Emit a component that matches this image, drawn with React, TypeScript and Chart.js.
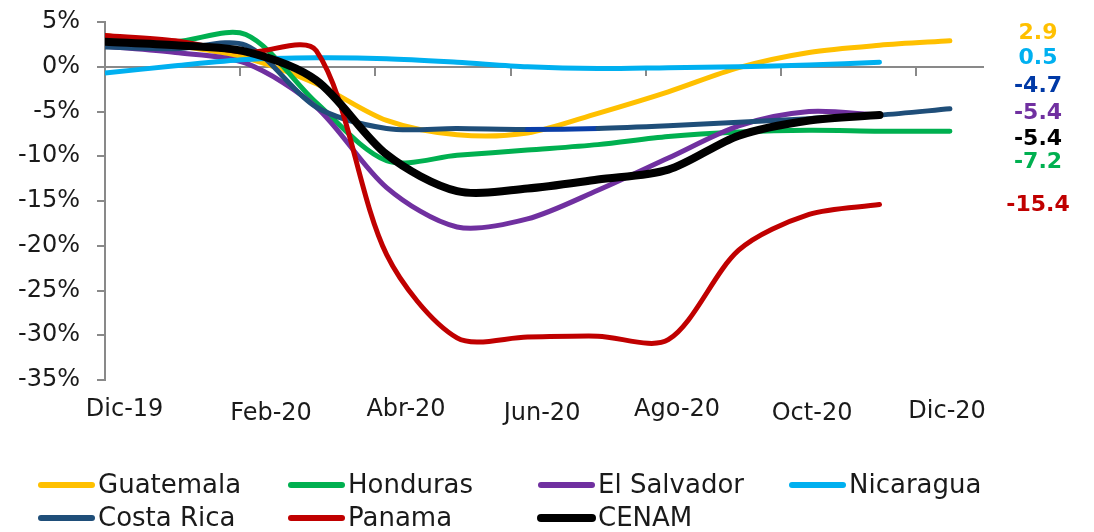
import React, { useEffect, useRef } from 'react';
import { Chart, registerables } from 'chart.js';

Chart.register(...registerables);

// ---- data ----
const xLabels = ['Dic-19', 'Feb-20', 'Abr-20', 'Jun-20', 'Ago-20', 'Oct-20', 'Dic-20'];
const xTickMonths = [0, 1.918, 3.835, 5.767, 7.685, 9.602, 11.52];
const xMaxMonths = 12.47;

const guatemala = [3.5, 2.4, 1.0, -1.9, -6.0, -7.6, -7.4, -5.2, -2.8, -0.1, 1.6, 2.4, 2.9];
const honduras = [3.0, 2.8, 3.6, -4.0, -10.5, -9.9, -9.3, -8.7, -7.8, -7.3, -7.1, -7.2, -7.2];
const elSalvador = [2.3, 1.6, 0.4, -4.5, -13.5, -17.9, -17.0, -13.8, -10.2, -6.6, -5.0, -5.4];
const nicaragua = [-0.7, 0.1, 0.8, 1.0, 0.9, 0.5, 0.0, -0.2, -0.1, 0.0, 0.2, 0.5];
const costaRica = [2.2, 2.0, 2.4, -4.5, -6.9, -6.9, -7.0, -6.9, -6.6, -6.2, -5.8, -5.4, -4.7];
const panama = [3.5, 2.9, 1.6, 1.8, -21.0, -30.3, -30.2, -30.1, -30.5, -20.5, -16.5, -15.4];
const cenam = [2.8, 2.4, 1.7, -1.5, -9.8, -13.9, -13.6, -12.6, -11.5, -7.7, -6.0, -5.4];

const seriesNames = ['Guatemala', 'Honduras', 'El Salvador', 'Nicaragua', 'Costa Rica', 'Panama', 'CENAM'];
const seriesValues = [guatemala, honduras, elSalvador, nicaragua, costaRica, panama, cenam];
const seriesColors = ['#FFC000', '#00B050', '#7030A0', '#00B0F0', '#1F4E79', '#C00000', '#000000'];

const endLabels = ['2.9', '0.5', '-4.7', '-5.4', '-5.4', '-7.2', '-15.4'];
const endLabelColors = ['#FFC000', '#00B0F0', '#0039A6', '#7030A0', '#000000', '#00B050', '#C00000'];

// ---- layout / style ----
const FONT = '"DejaVu Sans", sans-serif';
const TEXT = '#1a1a1a';
const AXIS = '#898989';
const endLabelY = [33, 58, 86, 113, 139, 162, 205];
const legendCols = [38, 288, 538, 789];
const legendRows = [485, 518];

const overlayPlugin = {
  id: 'overlay',
  afterDraw(chart: any) {
    const ctx = chart.ctx;
    const area = chart.chartArea;
    ctx.save();
    // end value labels
    ctx.font = `bold 22px ${FONT}`;
    ctx.textAlign = 'center';
    ctx.textBaseline = 'middle';
    endLabels.forEach((t, i) => {
      ctx.fillStyle = endLabelColors[i];
      ctx.fillText(t, area.right + 55, endLabelY[i]);
    });
    // legend
    ctx.font = `26px ${FONT}`;
    ctx.textAlign = 'left';
    seriesNames.forEach((name, i) => {
      const row = i < 4 ? 0 : 1;
      const col = i < 4 ? i : i - 4;
      const x = legendCols[col];
      const y = legendRows[row];
      ctx.strokeStyle = seriesColors[i];
      ctx.lineWidth = name === 'CENAM' ? 8 : 6;
      ctx.lineCap = 'round';
      ctx.beginPath();
      ctx.moveTo(x + 3, y);
      ctx.lineTo(x + 54, y);
      ctx.stroke();
      ctx.fillStyle = TEXT;
      ctx.fillText(name, x + 60, y + 1);
    });
    ctx.restore();
  },
};

const setTicks = (scale: any) => {
  scale.ticks = xTickMonths.map((v) => ({ value: v }));
};

export default function App() {
  const ref = useRef<HTMLCanvasElement | null>(null);

  useEffect(() => {
    if (!ref.current) return;
    const datasets = seriesNames.map((name, i) => ({
      label: name,
      data: seriesValues[i].map((v, j) => ({ x: j, y: v })),
      borderColor: seriesColors[i],
      backgroundColor: seriesColors[i],
      borderWidth: name === 'CENAM' ? 8 : 5,
      pointRadius: 0,
      pointHoverRadius: 0,
      tension: 0.3,
      fill: false,
      borderCapStyle: 'round',
      borderJoinStyle: 'round',
      order: seriesNames.length - 1 - i,
      segment:
        name === 'Costa Rica'
          ? { borderColor: (c: any) => (c.p0DataIndex === 6 ? '#0A3EA8' : undefined) }
          : undefined,
    }));

    const chart = new Chart(ref.current, {
      type: 'line',
      data: { datasets } as any,
      plugins: [overlayPlugin],
      options: {
        animation: false,
        responsive: true,
        maintainAspectRatio: false,
        layout: { padding: { top: 22, right: 111, bottom: 0, left: 0 } },
        plugins: { legend: { display: false }, tooltip: { enabled: false } },
        scales: {
          x: {
            type: 'linear',
            position: 'bottom',
            min: 0,
            max: xMaxMonths,
            afterBuildTicks: setTicks,
            afterFit: (s: any) => {
              s.height = 152;
            },
            grid: { display: false, drawTicks: false },
            border: { display: false },
            ticks: {
              autoSkip: false,
              maxRotation: 0,
              minRotation: 0,
              padding: 15,
              labelOffset: 31,
              color: TEXT,
              font: (c: any) => ({
                family: FONT,
                size: 24,
                lineHeight: c.index === 6 ? 1.367 : c.index % 2 === 1 ? 1.533 : 1.2,
              }),
              callback: (_v: any, i: number) => (i === 0 ? xLabels[i] + '   ' : xLabels[i]),
            },
          },
          x0: {
            type: 'linear',
            position: { y: 0 } as any,
            min: 0,
            max: xMaxMonths,
            afterBuildTicks: setTicks,
            grid: { drawOnChartArea: false, drawTicks: true, tickLength: 8, color: AXIS, lineWidth: 2 },
            border: { display: true, color: AXIS, width: 2 },
            ticks: { display: false },
          },
          y: {
            type: 'linear',
            min: -35,
            max: 5,
            afterFit: (s: any) => {
              s.width = 105;
              s.paddingTop = 0;
              s.paddingBottom = 0;
            },
            grid: { drawOnChartArea: false, drawTicks: true, tickLength: 8, color: AXIS, lineWidth: 2 },
            border: { display: true, color: AXIS, width: 2 },
            ticks: {
              stepSize: 5,
              padding: 17,
              color: TEXT,
              font: { family: FONT, size: 24 },
              callback: (v: any) => `${v}%`,
            },
          },
        },
      } as any,
    });
    return () => chart.destroy();
  }, []);

  return (
    <div style={{ position: 'fixed', left: 0, top: 0, width: 1094, height: 532, background: '#fff' }}>
      <canvas ref={ref} />
    </div>
  );
}
